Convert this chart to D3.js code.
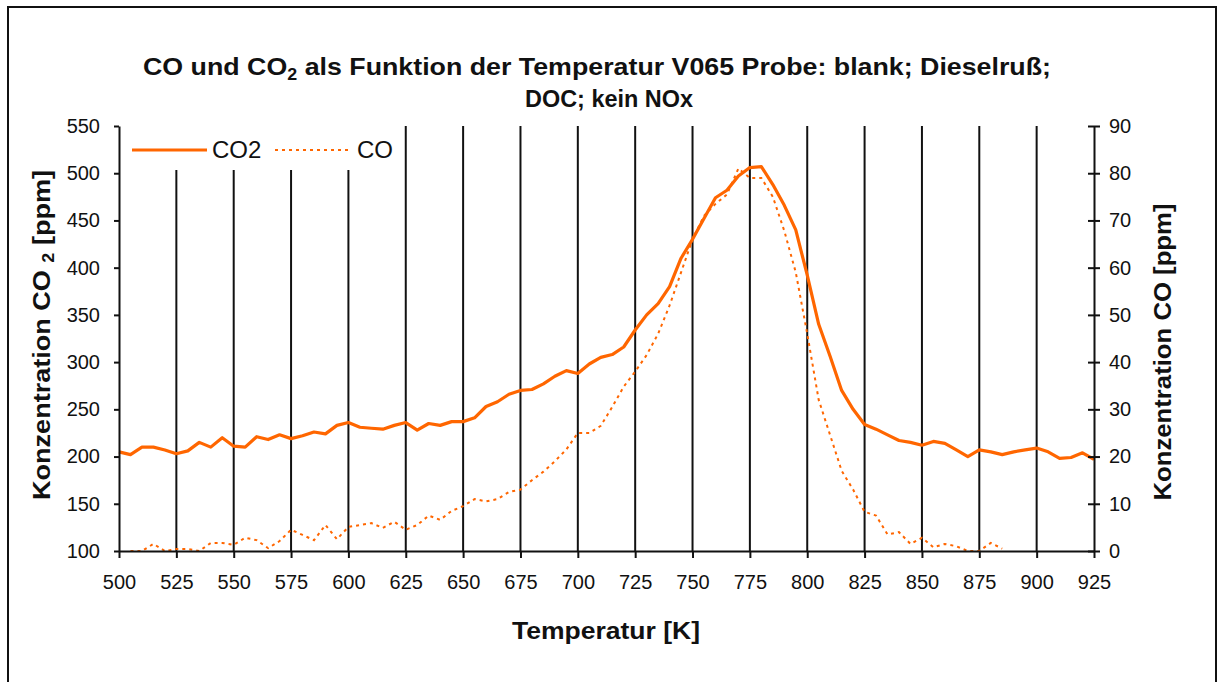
<!DOCTYPE html>
<html>
<head>
<meta charset="utf-8">
<script src="https://cdn.jsdelivr.net/npm/d3@7"></script>
<style>
  html, body { margin: 0; padding: 0; background: #fff; }
  svg { display: block; }
  text { font-family: "Liberation Sans", Arial, sans-serif; fill: #111; }
</style>
</head>
<body>
<svg id="chart" width="1218" height="682"></svg>
<script>
// ---- data ----
const temps = [500,505,510,515,520,525,530,535,540,545,550,555,560,565,570,575,580,585,590,595,
  600,605,610,615,620,625,630,635,640,645,650,655,660,665,670,675,680,685,690,695,
  700,705,710,715,720,725,730,735,740,745,750,755,760,765,770,775,780,785,790,795,
  800,805,810,815,820,825,830,835,840,845,850,855,860,865,870,875,880,885,890,895,
  900,905,910,915,920,925];
const co2 = [205,202,210,210,207,203,206,215,210,220,211,210,221,218,223,219,222,226,224,233,
  236,231,230,229,233,236,228,235,233,237,237,241,253,258,266,270,271,277,285,291,
  288,298,305,308,316,334,350,362,380,410,430,452,474,482,497,506,507,488,466,440,
  392,340,306,270,250,234,229,223,217,215,212,216,214,207,200,207,205,202,205,207,
  209,205,198,199,204,197];
const coTemps = [505,510,515,520,525,530,535,540,545,550,555,560,565,570,575,580,585,590,595,
  600,605,610,615,620,625,630,635,640,645,650,655,660,665,670,675,680,685,690,695,
  700,705,710,715,720,725,730,735,740,745,750,755,760,765,770,775,780,785,790,795,
  800,805,810,815,820,825,830,835,840,845,850,855,860,865,870,875,880,885];
const co = [0,0,1.5,0,0.4,0.4,0,1.7,1.7,1.3,2.8,2.3,0.6,2.1,4.5,3.4,2.3,5.5,2.5,
  5.1,5.5,5.9,4.9,6.2,4.5,5.5,7.5,6.6,8.5,9.5,11,10.5,11,12.5,13,15,16.8,19,21.5,
  25,25,26.5,30.5,34.8,38,41.5,46,52,59,66,71,73.5,75.5,81,79,79,75,67.8,59,
  46,32,24.5,17,13,8.3,7.5,3.5,4,1.5,2.8,0.8,1.5,1,0,0,1.7,0.5];
const xTicks = [500,525,550,575,600,625,650,675,700,725,750,775,800,825,850,875,900,925];
const gridTicks = [525,550,575,600,625,650,675,700,725,750,775,800,825,850,875,900];
const yLeftTicks = [100,150,200,250,300,350,400,450,500,550];
const yRightTicks = [0,10,20,30,40,50,60,70,80,90];

const ORANGE = "#ff6600";
const svg = d3.select("#chart");

// outer frame
svg.append("rect").attr("x", 8).attr("y", 7).attr("width", 1208).attr("height", 690)
  .attr("fill", "#fff").attr("stroke", "#111").attr("stroke-width", 2);

const x = d3.scaleLinear().domain([500, 925]).range([119, 1094]);
const yL = d3.scaleLinear().domain([100, 550]).range([551, 126]);
const yR = d3.scaleLinear().domain([0, 90]).range([551, 126]);

// vertical grid lines
svg.append("g").selectAll("line").data(gridTicks).join("line")
  .attr("x1", d => x(d)).attr("x2", d => x(d))
  .attr("y1", yL(550)).attr("y2", yL(100))
  .attr("stroke", "#111").attr("stroke-width", 2);

// legend background (covers grid lines)
svg.append("rect").attr("x", 121).attr("y", 120).attr("width", 279).attr("height", 50).attr("fill", "#fff");

// lines
const coLine = d3.line().x((d, i) => x(coTemps[i])).y(d => yR(d));
svg.append("path").datum(co).attr("d", coLine)
  .attr("fill", "none").attr("stroke", ORANGE).attr("stroke-width", 2)
  .attr("stroke-dasharray", "3,4");
const co2Line = d3.line().x((d, i) => x(temps[i])).y(d => yL(d));
svg.append("path").datum(co2).attr("d", co2Line)
  .attr("fill", "none").attr("stroke", ORANGE).attr("stroke-width", 3.2)
  .attr("stroke-linejoin", "round");

// axes
function styleAxis(g) {
  g.selectAll("path, line").attr("stroke", "#111").attr("stroke-width", 2);
  g.selectAll("text").attr("fill", "#111").style("font-size", "20px")
    .style("font-family", '"Liberation Sans", Arial, sans-serif');
}
const gx = svg.append("g").attr("transform", `translate(0,${yL(100)})`)
  .call(d3.axisBottom(x).tickValues(xTicks).tickSizeInner(7).tickSizeOuter(0).tickPadding(17).tickFormat(d3.format("d")));
styleAxis(gx);
const gl = svg.append("g").attr("transform", `translate(${x(500)},0)`)
  .call(d3.axisLeft(yL).tickValues(yLeftTicks).tickSizeInner(5).tickSizeOuter(0).tickPadding(14).tickFormat(d3.format("d")));
styleAxis(gl);
const gr = svg.append("g").attr("transform", `translate(${x(925)},0)`)
  .call(d3.axisRight(yR).tickValues(yRightTicks).tickSizeInner(6).tickSizeOuter(0).tickPadding(9).tickFormat(d3.format("d")));
gr.selectAll(".tick line").attr("x1", -6);
styleAxis(gr);

// legend
svg.append("line").attr("x1", 132).attr("x2", 207).attr("y1", 150).attr("y2", 150)
  .attr("stroke", ORANGE).attr("stroke-width", 3.2);
svg.append("text").attr("x", 212).attr("y", 158).style("font-size", "24px").text("CO2");
svg.append("line").attr("x1", 275).attr("x2", 349).attr("y1", 150).attr("y2", 150)
  .attr("stroke", ORANGE).attr("stroke-width", 2).attr("stroke-dasharray", "3,4");
svg.append("text").attr("x", 357).attr("y", 158).style("font-size", "24px").text("CO");

// titles
const t1 = svg.append("text").attr("x", 597).attr("y", 75).attr("text-anchor", "middle")
  .style("font-size", "24px").style("font-weight", "bold")
  .attr("textLength", 908).attr("lengthAdjust", "spacingAndGlyphs");
t1.append("tspan").text("CO und CO");
t1.append("tspan").attr("dy", 5).style("font-size", "16px").text("2");
t1.append("tspan").attr("dy", -5).text(" als Funktion der Temperatur V065 Probe: blank; Dieselruß;");
svg.append("text").attr("x", 609).attr("y", 107).attr("text-anchor", "middle")
  .style("font-size", "24px").style("font-weight", "bold")
  .attr("textLength", 168).attr("lengthAdjust", "spacingAndGlyphs").text("DOC; kein NOx");

svg.append("text").attr("x", 606).attr("y", 639).attr("text-anchor", "middle")
  .style("font-size", "24px").style("font-weight", "bold")
  .attr("textLength", 188).attr("lengthAdjust", "spacingAndGlyphs").text("Temperatur [K]");

const lt = svg.append("text").attr("transform", "translate(50,335) rotate(-90)").attr("text-anchor", "middle")
  .style("font-size", "24px").style("font-weight", "bold")
  .attr("textLength", 330).attr("lengthAdjust", "spacingAndGlyphs");
lt.append("tspan").text("Konzentration CO ");
lt.append("tspan").attr("dy", 4).style("font-size", "16px").text("2");
lt.append("tspan").attr("dy", -4).text(" [ppm]");

svg.append("text").attr("transform", "translate(1171,352) rotate(-90)").attr("text-anchor", "middle")
  .style("font-size", "24px").style("font-weight", "bold")
  .attr("textLength", 297).attr("lengthAdjust", "spacingAndGlyphs").text("Konzentration CO [ppm]");
</script>
</body>
</html>
